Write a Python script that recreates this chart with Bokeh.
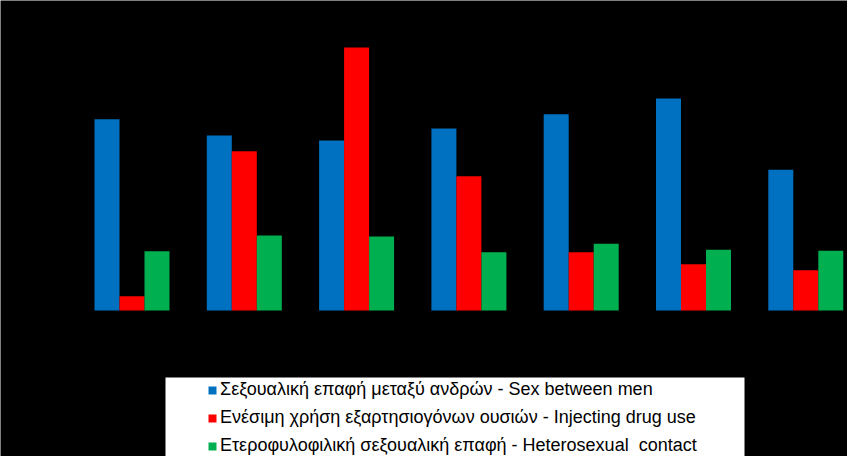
from bokeh.plotting import figure
from bokeh.models import Range1d, Legend, LegendItem, BoxAnnotation, ColumnDataSource
from bokeh.embed import file_html
from bokeh.resources import INLINE
import numpy as np

years = ["2010", "2011", "2012", "2013", "2014", "2015", "2016"]
msm = [352, 322, 313, 335, 361, 390, 259]
idu = [26, 293, 484, 247, 107, 85, 74]
hetero = [109, 138, 136, 107, 123, 112, 110]

labels = [
    "Σεξουαλική επαφή μεταξύ ανδρών - Sex between men",
    "Ενέσιμη χρήση εξαρτησιογόνων ουσιών - Injecting drug use",
    "Ετεροφυλοφιλική σεξουαλική επαφή - Heterosexual  contact",
]
colors = ["#0070C0", "#FF0000", "#00B050"]

W, H = 847, 456
base_px = 310          # baseline in canvas pixels from top
first_center_px = 131.5
group_px = 112.3
k = 484 / 263.0        # value per pixel

x_start = -first_center_px / group_px
x_end = (W - first_center_px) / group_px
y_start = -(H - base_px) * k
y_end = base_px * k

p = figure(width=W, height=H, output_backend="svg", toolbar_location=None,
           x_range=Range1d(x_start, x_end), y_range=Range1d(y_start, y_end),
           min_border=0, background_fill_color="black", border_fill_color="black",
           outline_line_color=None)
p.axis.visible = False
p.grid.visible = False

idx = np.arange(len(years))
bw = 25 / group_px
src = ColumnDataSource(dict(x=idx, msm=msm, idu=idu, hetero=hetero, year=years))
renderers = []
for off, col, c in zip([-bw, 0, bw], ["msm", "idu", "hetero"], colors):
    r = p.vbar(x=idx + off, top=src.data[col], bottom=0, width=bw,
               fill_color=c, line_color=None)
    renderers.append(r)

box = BoxAnnotation(left=(165 - first_center_px) / group_px,
                    right=(744 - first_center_px) / group_px,
                    top=(base_px - 377) * k, bottom=y_start - 10,
                    fill_color="white", fill_alpha=1.0, line_color=None, level="overlay")
p.add_layout(box)

legend = Legend(items=[LegendItem(label=l, renderers=[r]) for l, r in zip(labels, renderers)],
                location=(207, 0), padding=0, spacing=7, label_height=21,
                glyph_width=10, glyph_height=10, label_standoff=3,
                label_text_font="Liberation Sans", label_text_font_size="18px",
                label_text_color="black", background_fill_alpha=0,
                border_line_color=None, level="overlay")
p.add_layout(legend, "center")

open("out.html", "w").write(file_html(p, INLINE))
